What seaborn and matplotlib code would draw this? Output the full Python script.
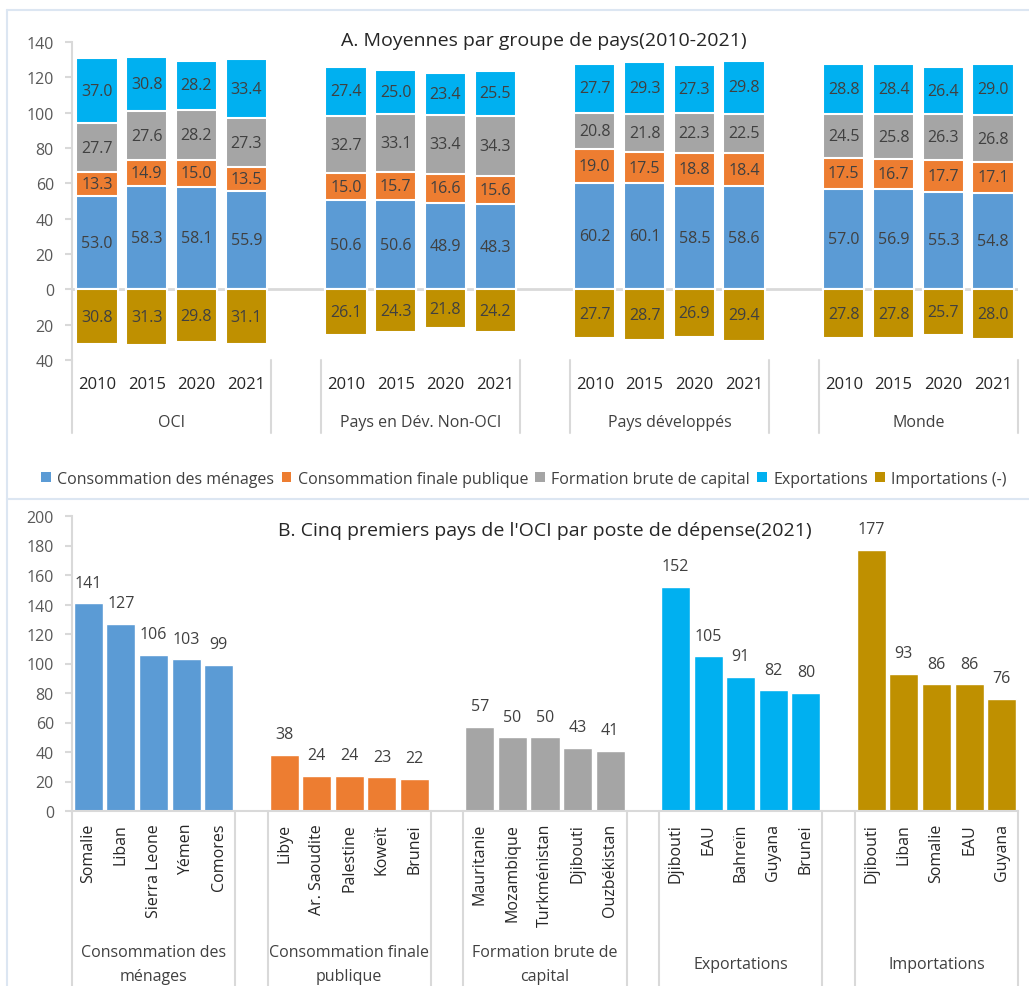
import numpy as np
import pandas as pd
import matplotlib
matplotlib.use("Agg")
import matplotlib.pyplot as plt
import seaborn as sns
from matplotlib.patches import Patch
from matplotlib.lines import Line2D

# ---------------- data ----------------
groups_a = ["OCI", "Pays en Dév. Non-OCI", "Pays développés", "Monde"]
years = ["2010", "2015", "2020", "2021"]
menages = [53.0, 58.3, 58.1, 55.9, 50.6, 50.6, 48.9, 48.3, 60.2, 60.1, 58.5, 58.6, 57.0, 56.9, 55.3, 54.8]
publique = [13.3, 14.9, 15.0, 13.5, 15.0, 15.7, 16.6, 15.6, 19.0, 17.5, 18.8, 18.4, 17.5, 16.7, 17.7, 17.1]
capital = [27.7, 27.6, 28.2, 27.3, 32.7, 33.1, 33.4, 34.3, 20.8, 21.8, 22.3, 22.5, 24.5, 25.8, 26.3, 26.8]
exportations = [37.0, 30.8, 28.2, 33.4, 27.4, 25.0, 23.4, 25.5, 27.7, 29.3, 27.3, 29.8, 28.8, 28.4, 26.4, 29.0]
importations = [30.8, 31.3, 29.8, 31.1, 26.1, 24.3, 21.8, 24.2, 27.7, 28.7, 26.9, 29.4, 27.8, 27.8, 25.7, 28.0]

series_names = ["Consommation des ménages", "Consommation finale publique",
                "Formation brute de capital", "Exportations", "Importations (-)"]
colors = ["#5B9BD5", "#ED7D31", "#A5A5A5", "#00B0F0", "#BF9000"]

groups_b = ["Consommation des\nménages", "Consommation finale\npublique",
            "Formation brute de\ncapital", "Exportations", "Importations"]
countries_b = [
    ["Somalie", "Liban", "Sierra Leone", "Yémen", "Comores"],
    ["Libye", "Ar. Saoudite", "Palestine", "Koweït", "Brunei"],
    ["Mauritanie", "Mozambique", "Turkménistan", "Djibouti", "Ouzbékistan"],
    ["Djibouti", "EAU", "Bahreïn", "Guyana", "Brunei"],
    ["Djibouti", "Liban", "Somalie", "EAU", "Guyana"],
]
values_b = [
    [141, 127, 106, 103, 99],
    [38, 24, 24, 23, 22],
    [57, 50, 50, 43, 41],
    [152, 105, 91, 82, 80],
    [177, 93, 86, 86, 76],
]

# ---------------- style ----------------
sns.set_theme(style="white")
plt.rcParams["font.family"] = ["Open Sans", "DejaVu Sans"]

W, H = 1029, 987
fig = plt.figure(figsize=(W / 100, H / 100), dpi=100)

def fx(px):
    return px / W

def fy(py):
    return 1 - py / H

GRID = "#D9D9D9"
TXT = "#404040"
TICK = "#595959"

# ---------------- panel A ----------------
order_a = []
rows = []
k = 0
for g, gname in enumerate(groups_a):
    for y in years:
        slot = f"{gname}|{y}"
        order_a.append(slot)
        rows.append(dict(slot=slot, men=menages[k], pub=publique[k], cap=capital[k],
                         exp=exportations[k], imp=importations[k]))
        k += 1
    if g < len(groups_a) - 1:
        order_a.append(" " * (g + 1))
dfa = pd.DataFrame(rows)
dfa["c1"] = dfa["men"]
dfa["c2"] = dfa["c1"] + dfa["pub"]
dfa["c3"] = dfa["c2"] + dfa["cap"]
dfa["c4"] = dfa["c3"] + dfa["exp"]
dfa["neg"] = -dfa["imp"]

axA = fig.add_axes([fx(72), fy(361), fx(1018) - fx(72), fy(43) - fy(361)])
for col, c in zip(["c4", "c3", "c2", "c1", "neg"], [colors[3], colors[2], colors[1], colors[0], colors[4]]):
    sns.barplot(data=dfa, x="slot", y=col, order=order_a, color=c, saturation=1,
                width=0.83, edgecolor="white", linewidth=1.5, errorbar=None, ax=axA, zorder=2)
axA.axhline(0, color=GRID, lw=2, zorder=1)
axA.set_xlim(-0.5, len(order_a) - 0.5)
axA.set_ylim(-40, 140)
axA.set_yticks(range(-40, 141, 20))
axA.set_yticklabels([str(abs(v)) for v in range(-40, 141, 20)])
axA.set_xticks([])
axA.set_xlabel("")
axA.set_ylabel("")
for s in ["top", "right", "bottom"]:
    axA.spines[s].set_visible(False)
axA.spines["left"].set_color(GRID)
axA.spines["left"].set_linewidth(1.5)
axA.tick_params(axis="y", left=True, length=5, width=1.5, color=GRID,
                labelsize=11.5, labelcolor=TICK, pad=8)

# labels in bars
for _, r in dfa.iterrows():
    xpos = order_a.index(r["slot"])
    bottoms = [0, r["c1"], r["c2"], r["c3"]]
    vals = [r["men"], r["pub"], r["cap"], r["exp"]]
    for b, v in zip(bottoms, vals):
        axA.text(xpos, b + v / 2, f"{v:.1f}", ha="center", va="center",
                 fontsize=11.5, color=TXT, zorder=5)
    axA.text(xpos, -r["imp"] / 2, f"{r['imp']:.1f}", ha="center", va="center",
             fontsize=11.5, color=TXT, zorder=5)

trA = axA.get_xaxis_transform()
ext_a = (361 - 434) / (361 - 43)
yr_a = (361 - 385) / (361 - 43)
gr_a = (361 - 423) / (361 - 43)
for g, gname in enumerate(groups_a):
    start = g * 5
    for i, y in enumerate(years):
        axA.text(start + i, yr_a, y, transform=trA, ha="center", va="center",
                 fontsize=12, color="#262626", clip_on=False)
    axA.text(start + 1.5, gr_a, gname, transform=trA, ha="center", va="center",
             fontsize=11.5, color=TXT, clip_on=False)
    for xb in [start - 0.5, start + 3.5]:
        axA.plot([xb, xb], [0, ext_a], transform=trA,
                 color=GRID, lw=1.5, clip_on=False)

fig.text(fx(544), fy(41), "A. Moyennes par groupe de pays(2010-2021)", ha="center",
         va="center", fontsize=14, color="#262626")

handles = [Patch(facecolor=c, edgecolor="none") for c in colors]
fig.legend(handles, series_names, loc="center", bbox_to_anchor=(fx(524), fy(480)),
           ncol=5, frameon=False, fontsize=11.5, handlelength=0.6, handleheight=0.6,
           handletextpad=0.4, columnspacing=0.45, labelcolor=TXT)

# ---------------- panel B ----------------
order_b = []
rows_b = []
for g, gname in enumerate(groups_b):
    for cn, v in zip(countries_b[g], values_b[g]):
        slot = f"{g}|{cn}"
        order_b.append(slot)
        rows_b.append(dict(slot=slot, country=cn, group=g, value=v))
    if g < len(groups_b) - 1:
        order_b.append(" " * (g + 1))
dfb = pd.DataFrame(rows_b)

axB = fig.add_axes([fx(72), fy(812), fx(1018) - fx(72), fy(517) - fy(812)])
sns.barplot(data=dfb, x="slot", y="value", hue="group", order=order_b,
            palette=colors, saturation=1, width=0.89, dodge=False, errorbar=None,
            legend=False, ax=axB, zorder=2)
axB.set_xlim(-0.5, len(order_b) - 0.5)
axB.set_ylim(0, 200)
axB.set_yticks(range(0, 201, 20))
axB.set_xticks([])
axB.set_xlabel("")
axB.set_ylabel("")
for s in ["top", "right"]:
    axB.spines[s].set_visible(False)
for s in ["left", "bottom"]:
    axB.spines[s].set_color(GRID)
    axB.spines[s].set_linewidth(1.5)
axB.tick_params(axis="y", left=True, length=5, width=1.5, color=GRID,
                labelsize=11.5, labelcolor=TICK, pad=8)

trB = axB.get_xaxis_transform()
ext_b = (812 - 990) / (812 - 517)
cn_b = (812 - 824) / (812 - 517)
gr_b = (812 - 965) / (812 - 517)
for _, r in dfb.iterrows():
    xpos = order_b.index(r["slot"])
    axB.annotate(f"{r['value']:d}", (xpos, r["value"]), xytext=(0, 9),
                 textcoords="offset points", ha="center", va="bottom",
                 fontsize=11.5, color=TXT)
    axB.text(xpos, cn_b, r["country"], transform=trB, rotation=90, ha="center",
             va="top", fontsize=11.5, color="#262626", clip_on=False)
for g, gname in enumerate(groups_b):
    start = g * 6
    axB.text(start + 2, gr_b, gname, transform=trB, ha="center", va="center",
             fontsize=11.5, color=TXT, linespacing=1.7, clip_on=False)
    for xb in [start - 0.5, start + 4.5]:
        axB.plot([xb, xb], [0, ext_b], transform=trB, color=GRID, lw=1.5, clip_on=False)

fig.text(fx(545), fy(531), "B. Cinq premiers pays de l'OCI par poste de dépense(2021)",
         ha="center", va="center", fontsize=14, color="#262626")

# ---------------- panel frames ----------------
BOX = "#DCE6F2"
fig.add_artist(Line2D([fx(7), 1], [fy(11), fy(11)], transform=fig.transFigure, color=BOX, lw=1.5))
fig.add_artist(Line2D([fx(7), 1], [fy(500), fy(500)], transform=fig.transFigure, color=BOX, lw=1.5))
fig.add_artist(Line2D([fx(7), fx(7)], [fy(11), 0], transform=fig.transFigure, color=BOX, lw=1.5))

fig.savefig("out.png", dpi=100)
